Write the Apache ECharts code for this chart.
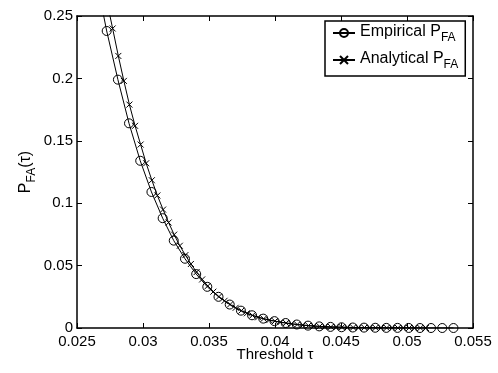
<!DOCTYPE html>
<html>
<head>
<meta charset="utf-8">
<script src="https://cdn.jsdelivr.net/npm/echarts@6/dist/echarts.min.js"></script>
<style>html,body{margin:0;padding:0;background:#fff;}#c{width:498px;height:373px;}</style>
</head>
<body>
<div id="c"></div>
<script>
// Tick labels
const xTickLabels = ['0.025','0.03','0.035','0.04','0.045','0.05','0.055'];
const yTickLabels = ['0','0.05','0.1','0.15','0.2','0.25'];

// Empirical P_FA (circles)
const empX = [0.02640,0.02725,0.02810,0.02894,0.02979,0.03064,0.03149,0.03233,0.03318,0.03403,0.03487,0.03572,0.03657,0.03742,0.03826,0.03911,0.03996,0.04081,0.04165,0.04250,0.04335,0.04420,0.04504,0.04589,0.04674,0.04759,0.04843,0.04928,0.05013,0.05098,0.05182,0.05267,0.05352];
const empY = [0.283,0.238,0.199,0.164,0.134,0.109,0.088,0.070,0.0555,0.0432,0.0330,0.0250,0.0188,0.0139,0.0102,0.0075,0.0055,0.0040,0.0028,0.0019,0.0013,0.0009,0.0006,0.0004,0.0003,0.0002,0.0001,0.0001,0.00005,0,0,0,0];

// Analytical P_FA (crosses)
const anaX = [0.02728,0.02770,0.02813,0.02855,0.02897,0.02940,0.02982,0.03024,0.03067,0.03109,0.03152,0.03194,0.03236,0.03279,0.03321,0.03363,0.03406,0.03448,0.03491,0.03533,0.03575,0.03618,0.03660,0.03702,0.03745,0.03787,0.03829,0.03872,0.03914,0.03957,0.03999,0.04041,0.04084,0.04126,0.04168,0.04211,0.04253,0.04295,0.04338,0.04380,0.04423,0.04465,0.04507,0.04550,0.04592,0.04634,0.04677,0.04719,0.04762,0.04804,0.04846,0.04889,0.04931,0.04973,0.05016,0.05058,0.05101,0.05143];
const anaY = [0.261,0.240,0.218,0.198,0.179,0.162,0.147,0.132,0.1184,0.1062,0.0949,0.0845,0.0748,0.0659,0.0584,0.0513,0.0448,0.0389,0.0337,0.0291,0.0251,0.0218,0.0189,0.0162,0.0139,0.0118,0.0101,0.0086,0.0074,0.00635,0.0055,0.0047,0.0040,0.0033,0.0028,0.0023,0.0019,0.0016,0.0013,0.0011,0.0009,0.00075,0.0006,0.0005,0.0004,0.00035,0.0003,0.00025,0.0002,0.00015,0.0001,0.0001,0.00008,0.00006,0.00005,0.00004,0.00003,0.00002];

const FONT = 'Liberation Sans, Arial, Helvetica, sans-serif';
const xMin = 0.025, xMax = 0.055, xInt = 0.005;
const yMin = 0, yMax = 0.25, yInt = 0.05;

function pairs(xs, ys){ return xs.map((x,i)=>[x, ys[i]]); }
function xFmt(v){ return xTickLabels[Math.round((v - xMin)/xInt)] || ''; }
function yFmt(v){ return yTickLabels[Math.round((v - yMin)/yInt)] || ''; }

const axisLineStyle = {color:'#000', width:1.5};
const tickCfg = {show:true, inside:true, length:5, lineStyle:{color:'#000', width:1}};

const chart = echarts.init(document.getElementById('c'), null, {renderer:'canvas'});
chart.setOption({
  animation:false,
  backgroundColor:'#fff',
  grid:{left:77, right:25, top:16, bottom:45, containLabel:false},
  xAxis:[
    {type:'value', position:'bottom', min:xMin, max:xMax, interval:xInt,
     axisLine:{show:true, onZero:false, lineStyle:axisLineStyle}, axisTick:tickCfg,
     axisLabel:{color:'#000', fontSize:15, fontFamily:FONT, margin:6, formatter:xFmt, showMinLabel:true, showMaxLabel:true},
     splitLine:{show:false}},
    {type:'value', position:'top', min:xMin, max:xMax, interval:xInt,
     axisLine:{show:true, onZero:false, lineStyle:axisLineStyle}, axisTick:tickCfg,
     axisLabel:{show:false}, splitLine:{show:false}}
  ],
  yAxis:[
    {type:'value', position:'left', min:yMin, max:yMax, interval:yInt,
     axisLine:{show:true, onZero:false, lineStyle:axisLineStyle}, axisTick:tickCfg,
     axisLabel:{color:'#000', fontSize:15, fontFamily:FONT, margin:4, formatter:yFmt},
     splitLine:{show:false}},
    {type:'value', position:'right', min:yMin, max:yMax, interval:yInt,
     axisLine:{show:true, onZero:false, lineStyle:axisLineStyle}, axisTick:tickCfg,
     axisLabel:{show:false}, splitLine:{show:false}}
  ],
  legend:{
    orient:'vertical', left:325, top:21,
    backgroundColor:'#fff', borderColor:'#000', borderWidth:1.5, borderRadius:0,
    padding:[3,7,5,7], itemGap:7, itemWidth:22, itemHeight:10,
    textStyle:{color:'#000', fontFamily:FONT, fontSize:16,
      rich:{
        n:{fontFamily:FONT, fontSize:16, color:'#000', lineHeight:18, verticalAlign:'top'},
        sub:{fontFamily:FONT, fontSize:12, color:'#000', lineHeight:14, padding:[8,0,0,0], verticalAlign:'top'}
      }},
    formatter:function(name){
      return name === 'emp' ? '{n|Empirical P}{sub|FA}' : '{n|Analytical P}{sub|FA}';
    },
    data:['emp','ana']
  },
  series:[
    {name:'emp', type:'line', xAxisIndex:0, yAxisIndex:0, data:pairs(empX, empY),
     clip:true, showAllSymbol:true, symbol:'circle', symbolSize:9,
     lineStyle:{color:'#000', width:1},
     itemStyle:{color:'rgba(0,0,0,0)', borderColor:'#000', borderWidth:1},
     emphasis:{disabled:true}, z:3},
    {name:'ana', type:'line', xAxisIndex:0, yAxisIndex:0, data:pairs(anaX, anaY),
     clip:true, showAllSymbol:true, symbol:'path://M0,0L10,10M10,0L0,10', symbolSize:6,
     lineStyle:{color:'#000', width:1},
     itemStyle:{color:'rgba(0,0,0,0)', borderColor:'#000', borderWidth:1},
     emphasis:{disabled:true}, z:3}
  ],
  graphic:[
    {type:'text', x:275, y:355, style:{text:'Threshold τ', font:'15px ' + FONT, fill:'#000', align:'center', verticalAlign:'middle'}},
    {type:'text', x:27, y:172, rotation:Math.PI/2,
     style:{text:'{n|P}{sub|FA}{n|(τ)}', fill:'#000', align:'center', verticalAlign:'middle',
       rich:{
         n:{fontFamily:FONT, fontSize:16, fill:'#000', lineHeight:18, verticalAlign:'top'},
         sub:{fontFamily:FONT, fontSize:12, fill:'#000', lineHeight:14, padding:[8,0,0,0], verticalAlign:'top'}
       }}}
  ]
});
</script>
</body>
</html>
